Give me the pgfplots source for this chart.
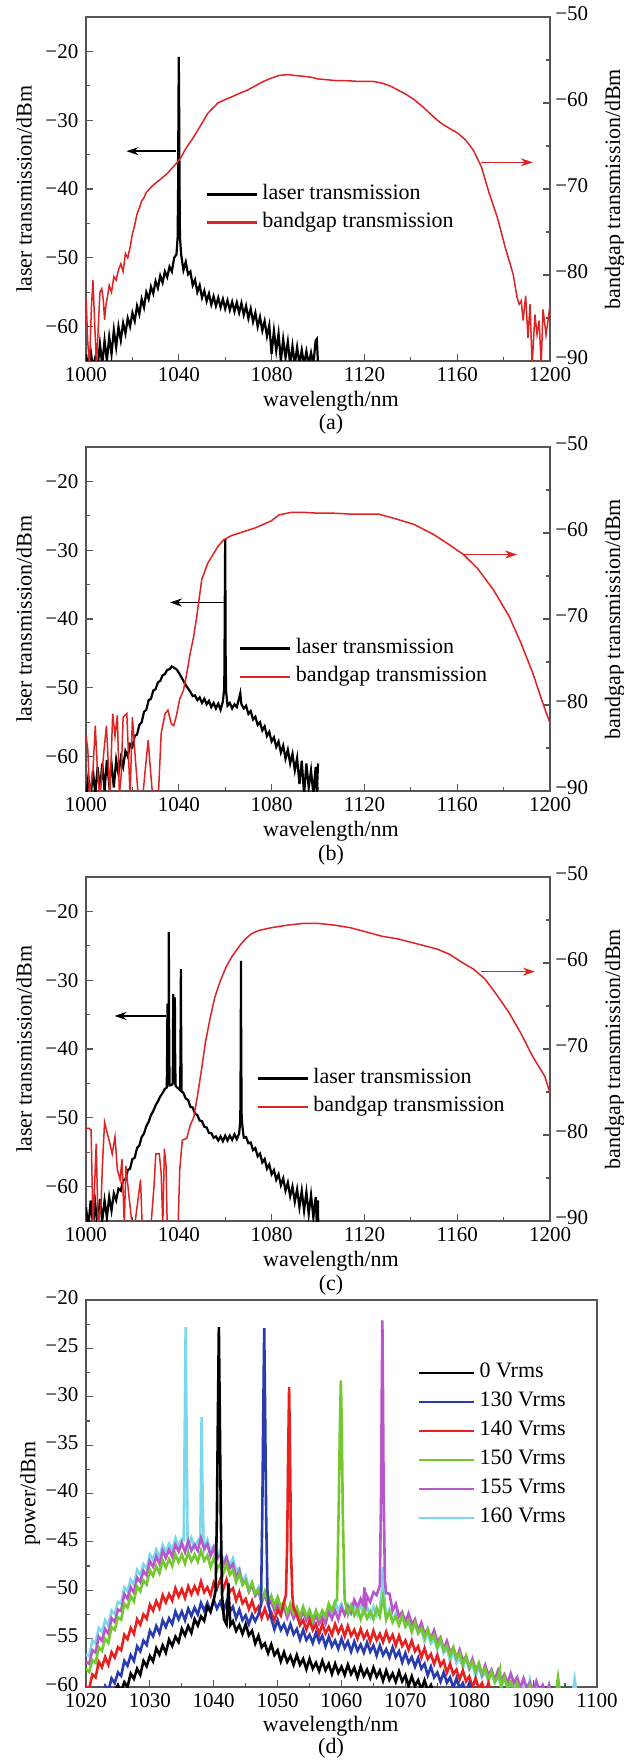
\documentclass[border=0pt]{standalone}
\usepackage{fontspec}
\setmainfont{Liberation Serif}
\usepackage{pgfplots}
\pgfplotsset{compat=1.18}
\usetikzlibrary{arrows.meta}
\definecolor{cR}{RGB}{222,35,35}
\definecolor{dBlue}{RGB}{40,60,175}
\definecolor{dRed}{RGB}{232,32,32}
\definecolor{dGreen}{RGB}{115,200,45}
\definecolor{dMag}{RGB}{185,85,205}
\definecolor{dCyan}{RGB}{125,215,235}
\definecolor{axgray}{RGB}{85,85,85}
\newcommand\fs{\fontsize{10.5pt}{12pt}\selectfont}
\newcommand\fl{\fontsize{11pt}{13pt}\selectfont}
\pgfplotsset{
  base/.style={scale only axis, anchor=north west, tick align=inside,
    axis line style={axgray,line width=0.7pt}, every tick/.style={axgray,line width=0.6pt},
    major tick length=3.5pt, minor tick length=2pt,
    tick label style={font=\fs}, label style={font=\fl},
    xticklabel style={inner sep=3pt},
    /pgf/number format/assume math mode=true, /pgf/number format/set thousands separator={},
    legend cell align=left},
  leftpanel/.style={base, width=232pt, height=172pt, xmin=1000, xmax=1200, ymin=-65, ymax=-15,
    xtick={1000,1040,...,1200}, minor x tick num=1, ytick={-60,-50,...,-20},
    yticklabels={−60,−50,−40,−30,−20}, minor y tick num=1, xtick pos=left, ytick pos=left,
    xlabel={wavelength/nm}, xlabel style={at={(axis description cs:0.528,0)},anchor=center,yshift=-20pt},
    ylabel={laser transmission/dBm}, ylabel style={at={(axis description cs:-0.1336,0.5)},anchor=center}},
  rightpanel/.style={base, width=232pt, height=172pt, xmin=1000, xmax=1200, ymin=-90, ymax=-50,
    axis x line=none, axis y line*=right, ytick={-90,-80,...,-50}, yticklabels={−90,−80,−70,−60,−50},
    minor y tick num=1, yticklabel style={inner sep=2.5pt, yshift=1.8pt},
    ylabel={bandgap transmission/dBm}, ylabel style={at={(axis description cs:1.1400,0.5)},anchor=center},
    legend image code/.code={\draw[##1] (0pt,0pt) -- (25pt,0pt);},
    legend style={draw=none, fill=none, anchor=north west, inner sep=0pt,
      nodes={inner sep=2pt, text height=7.5pt, text depth=2.5pt}, font=\fl}},
}
\begin{document}
\fl
\begin{tikzpicture}
\useasboundingbox (0pt,0pt) rectangle (312pt,-880pt);
% ---------------- (a) ----------------
\begin{axis}[leftpanel, at={(43pt,-8.5pt)}]
\addplot[black, line width=1.1pt] coordinates {(1000,-64)(1001,-66)(1002,-63.5)(1003,-66)(1004,-64.5)(1005,-66)(1006,-62.5)(1007,-65.5)(1008,-62)(1009,-65)(1010,-61.5)(1011,-64)(1012,-60.5)(1013,-63)(1014,-60)(1015,-62)(1016,-59.5)(1017,-61)(1018,-58.8)(1019,-60)(1020,-58)(1021,-59.2)(1022,-57)(1023,-58.2)(1024,-56)(1025,-57.2)(1026,-55)(1027,-56)(1028,-54.2)(1029,-55.2)(1030,-53.4)(1031,-54.4)(1032,-52.6)(1033,-53.6)(1034,-52)(1035,-52.8)(1036,-51.3)(1037,-52)(1038,-50)(1039,-49.5)(1039.5,-47)(1039.7,-40)(1039.85,-28)(1040,-20.8)(1040.15,-28)(1040.3,-39)(1040.5,-47)(1041,-49.5)(1042,-51.8)(1043,-50.6)(1044,-52.4)(1045,-52)(1046,-54)(1047,-53.2)(1048,-55)(1049,-54)(1050,-55.8)(1051,-54.8)(1052,-56.3)(1053,-55.2)(1054,-56.8)(1055,-55.6)(1056,-57)(1057,-55.8)(1058,-57.2)(1059,-56)(1060,-57.4)(1061,-56.2)(1062,-57.6)(1063,-56.4)(1064,-57.8)(1065,-56.5)(1066,-58)(1067,-56.6)(1068,-58.3)(1069,-57)(1070,-58.8)(1071,-57.4)(1072,-59.3)(1073,-58)(1074,-60)(1075,-58.6)(1076,-60.6)(1077,-59.2)(1078,-61.4)(1079,-59.8)(1080,-64)(1081,-60.6)(1082,-63.5)(1083,-61)(1084,-65)(1085,-61.8)(1086,-64.5)(1087,-62.2)(1088,-65.5)(1089,-62.8)(1090,-65.5)(1091,-63)(1092,-65.5)(1093,-63.4)(1094,-65.5)(1095,-63.6)(1096,-65.5)(1097,-63.8)(1098,-65.5)(1099,-62)(1099.5,-61.8)(1100,-65.5)};
\draw[black, line width=0.7pt, -{Stealth[length=6pt,width=4pt]}] (axis cs:1038.8,-34.5) -- (axis cs:1017.4,-34.5);
\end{axis}
\begin{axis}[rightpanel, at={(43pt,-8.5pt)}, legend style={at={(0.256,0.526)}}]
\addlegendimage{black, line width=1.6pt}
\addlegendentry{laser transmission}
\addplot[cR, line width=0.75pt, forget plot] coordinates {(1000,-82.6)(1000.8,-88)(1001.5,-90.5)(1002.3,-84)(1003,-80.6)(1003.8,-86)(1004.5,-90.5)(1005.3,-86)(1006,-82)(1006.8,-81.6)(1007.5,-83)(1008,-85.2)(1008.6,-83.5)(1009.2,-82.6)(1010,-81.2)(1011,-82)(1012,-80.2)(1013,-80.6)(1014,-79.4)(1015,-78.7)(1016,-79.6)(1017,-77.5)(1018,-78)(1019,-76.8)(1020,-75.2)(1021,-74.2)(1022,-72.9)(1023,-72.2)(1024,-71.4)(1025,-71)(1026,-70.4)(1028,-69.8)(1030,-69.3)(1032,-68.9)(1035,-68.2)(1037,-67.6)(1039,-67)(1041,-66.3)(1043,-65.3)(1045.6,-64.3)(1049,-62.8)(1052.5,-61.2)(1056.8,-60)(1060,-59.6)(1062.7,-59.3)(1066,-58.9)(1069.6,-58.5)(1073,-58)(1076.4,-57.5)(1080,-57.1)(1083.2,-56.8)(1087,-56.7)(1090,-56.8)(1094,-56.9)(1097,-57)(1100,-57.2)(1104,-57.3)(1108,-57.4)(1112,-57.4)(1118,-57.5)(1124,-57.5)(1127.7,-57.7)(1131,-58)(1134.5,-58.5)(1138,-59)(1141.4,-59.6)(1145,-60.4)(1148.2,-61.2)(1151,-61.9)(1153.3,-62.4)(1157,-63)(1160.2,-63.5)(1163.6,-64.3)(1167,-65.5)(1170.4,-67.4)(1173.8,-70.5)(1177.3,-73.3)(1180.7,-76.8)(1184.1,-79.9)(1185.8,-82.6)(1186.7,-83.4)(1187.6,-83)(1188.4,-85.3)(1189.5,-82.4)(1190.5,-87.3)(1191.4,-83.4)(1192.3,-90.5)(1193.5,-84.6)(1194.4,-86.9)(1195.3,-85.3)(1196.2,-90.5)(1197,-84)(1198.3,-87)(1200,-83.5)};
\addlegendimage{cR, line width=1.1pt}
\addlegendentry{bandgap transmission}
\draw[cR, line width=0.7pt, -{Stealth[length=6pt,width=4pt]}] (axis cs:1170.4,-66.9) -- (axis cs:1192.6,-66.9);
\end{axis}
\node[font=\fl] at (165.5pt,-212pt) {(a)};
% ---------------- (b) ----------------
\begin{axis}[leftpanel, at={(43pt,-223.5pt)}]
\addplot[black, line width=1.1pt] coordinates {(1000,-66)(1001,-63)(1002,-66)(1003,-62)(1004,-65.5)(1005,-61.5)(1006,-65)(1007,-61)(1008,-65)(1009,-60.5)(1010,-64)(1011,-61)(1012,-64.5)(1013,-60.5)(1014,-62.5)(1015,-60.2)(1016,-61.5)(1017,-59.2)(1018,-60)(1019,-58.2)(1020,-58.6)(1021,-57)(1022,-56.8)(1023,-55.4)(1024,-55)(1025,-53.5)(1026,-53.2)(1027,-51.8)(1028,-51.6)(1029,-50.4)(1030,-50.2)(1031,-49.2)(1032,-49)(1033,-48.2)(1034,-48)(1035,-47.4)(1036,-47.3)(1037,-46.9)(1038,-47.1)(1039,-47.3)(1040,-47.8)(1041,-48.4)(1042,-49)(1043,-49.6)(1044,-50.1)(1045,-50.6)(1046,-51.2)(1047,-51.1)(1048,-51.8)(1049,-51.4)(1050,-52.2)(1051,-51.6)(1052,-52.4)(1053,-51.9)(1054,-52.8)(1055,-52.2)(1056,-53)(1057,-52.3)(1058,-53.2)(1059,-52)(1059.6,-50)(1059.8,-40)(1059.9,-33)(1060,-28.4)(1060.1,-37)(1060.2,-46)(1060.4,-50.5)(1061,-52.6)(1062,-52.2)(1063,-53)(1064,-52.4)(1065,-52.8)(1066,-51.5)(1066.5,-50.8)(1067,-52.4)(1068,-53)(1069,-52.6)(1070,-53.8)(1071,-53.4)(1072,-54.6)(1073,-54.2)(1074,-55.4)(1075,-55)(1076,-56.2)(1077,-55.6)(1078,-57)(1079,-56.4)(1080,-57.8)(1081,-57.2)(1082,-58.6)(1083,-57.8)(1084,-59.4)(1085,-58.4)(1086,-60.3)(1087,-59)(1088,-61)(1089,-59.6)(1090,-62)(1091,-60.2)(1092,-64)(1093,-60.6)(1094,-65.5)(1095,-61)(1096,-64.5)(1097,-62)(1098,-65.5)(1099,-61.5)(1099.5,-65.5)(1100,-61)};
\draw[black, line width=0.7pt, -{Stealth[length=6pt,width=4pt]}] (axis cs:1059.3,-37.6) -- (axis cs:1036.2,-37.6);
\end{axis}
\begin{axis}[rightpanel, at={(43pt,-223.5pt)}, legend style={at={(0.328,0.455)}}]
\addlegendimage{black, line width=1.6pt}
\addlegendentry{laser transmission}
\addplot[cR, line width=0.75pt, forget plot] coordinates {(1000,-83.6)(1000.8,-85.2)(1001.5,-90.5)(1003,-87.6)(1004,-82.4)(1005,-88)(1006,-90.5)(1007.5,-86)(1008.8,-82.4)(1010.3,-90.5)(1011.5,-81)(1012.5,-83.6)(1013.5,-81.2)(1014.4,-90.5)(1015.2,-88)(1016,-81.4)(1017.6,-81)(1019,-90.5)(1020,-81.4)(1021.2,-86)(1022.5,-90.5)(1024.5,-90.5)(1025.8,-86.8)(1026.8,-84.1)(1027.8,-87.6)(1028.7,-90.5)(1031.2,-90.5)(1032.4,-83.3)(1034.1,-81)(1035.3,-80.6)(1036.8,-82.2)(1037.8,-82.4)(1039,-81.2)(1040.4,-79.3)(1042,-78.3)(1043.4,-76.4)(1044.9,-74)(1046.3,-72.2)(1047.8,-69.6)(1049.9,-65.4)(1052.5,-63.5)(1056.8,-61.6)(1059.3,-60.8)(1062.7,-60.3)(1066.2,-60)(1073,-59.4)(1079.8,-58.6)(1083.2,-57.9)(1088.4,-57.6)(1094,-57.6)(1100.3,-57.7)(1107,-57.7)(1114,-57.8)(1120,-57.8)(1126,-57.8)(1132.8,-58.3)(1141.4,-59)(1150,-60.2)(1156.8,-61.4)(1162.7,-62.5)(1168.7,-64.1)(1175.6,-66.6)(1182.4,-69.7)(1187.5,-72.8)(1192.6,-76.3)(1196.9,-79.8)(1200,-82.1)};
\addlegendimage{cR, line width=1.1pt}
\addlegendentry{bandgap transmission}
\draw[cR, line width=0.7pt, -{Stealth[length=6pt,width=4pt]}] (axis cs:1161.9,-62.5) -- (axis cs:1185.8,-62.5);
\end{axis}
\node[font=\fl] at (165.5pt,-427.5pt) {(b)};
% ---------------- (c) ----------------
\begin{axis}[leftpanel, at={(43pt,-438.5pt)}]
\addplot[black, line width=1.1pt] coordinates {(1000,-63)(1001,-66)(1002,-62)(1003,-65.5)(1004,-62.5)(1005,-66)(1006,-61.8)(1007,-65)(1008,-62)(1009,-64.5)(1010,-61.5)(1011,-63.5)(1012,-61)(1013,-62)(1014,-60.3)(1015,-60.6)(1016,-59)(1017,-59)(1018,-57.6)(1019,-57.4)(1020,-56)(1021,-55.8)(1022,-54.4)(1023,-54)(1024,-52.8)(1025,-52.3)(1026,-51.2)(1027,-50.6)(1028,-49.6)(1029,-49)(1030,-48.2)(1031,-47.6)(1032,-46.9)(1033,-46.4)(1034,-45.8)(1034.8,-45.6)(1035,-40)(1035.1,-33.4)(1035.2,-40)(1035.4,-45.2)(1035.6,-35)(1035.7,-23)(1035.8,-35)(1036,-45.3)(1037,-45.2)(1037.4,-45)(1037.5,-38)(1037.6,-32)(1037.7,-38)(1037.9,-45.1)(1038.1,-40)(1038.3,-32.5)(1038.4,-40)(1038.6,-45.3)(1039,-45.5)(1040,-45.8)(1040.6,-46)(1040.8,-36)(1040.9,-28.4)(1041,-36)(1041.2,-46.1)(1042,-46.4)(1043,-47.2)(1044,-47.4)(1045,-48.4)(1046,-48.5)(1047,-49.4)(1048,-49.6)(1049,-50.4)(1050,-50.5)(1051,-51.3)(1052,-51.4)(1053,-52.2)(1054,-52.2)(1055,-52.9)(1056,-52.7)(1057,-53.3)(1058,-52.7)(1059,-53.4)(1060,-52.6)(1061,-53.3)(1062,-52.6)(1063,-53.2)(1064,-52.4)(1065,-53.1)(1066,-52.3)(1066.5,-50.5)(1066.7,-40)(1066.8,-27.2)(1066.9,-40)(1067.1,-50)(1067.5,-51.5)(1068,-52.9)(1069,-52.8)(1070,-53.7)(1071,-53.6)(1072,-54.7)(1073,-54.4)(1074,-55.6)(1075,-55.2)(1076,-56.5)(1077,-56)(1078,-57.4)(1079,-56.8)(1080,-58.2)(1081,-57.6)(1082,-59)(1083,-58.2)(1084,-59.8)(1085,-58.8)(1086,-60.6)(1087,-59.4)(1088,-61.4)(1089,-60)(1090,-62.2)(1091,-60.4)(1092,-63)(1093,-60.6)(1094,-63.5)(1095,-60.8)(1096,-64)(1097,-61.2)(1098,-64.5)(1099,-61.5)(1099.5,-65.5)(1100,-62)(1100.1,-66)};
\draw[black, line width=0.7pt, -{Stealth[length=6pt,width=4pt]}] (axis cs:1034.5,-35.2) -- (axis cs:1012.3,-35.2);
\end{axis}
\begin{axis}[rightpanel, at={(43pt,-438.5pt)}, legend style={at={(0.366,0.455)}}]
\addlegendimage{black, line width=1.6pt}
\addlegendentry{laser transmission}
\addplot[cR, line width=0.75pt, forget plot] coordinates {(1000,-79.3)(1001,-79.2)(1002.2,-79.4)(1003,-90.5)(1003.7,-86)(1004.4,-81)(1005.2,-90.5)(1006.5,-88)(1007,-84)(1008,-78.5)(1009,-79.6)(1010.3,-81)(1011.3,-82.2)(1012.5,-80.2)(1013.5,-84)(1014.7,-85.2)(1015.5,-82.8)(1016.5,-90.5)(1017.2,-83.6)(1018.4,-86.8)(1019.9,-90.5)(1021,-90.5)(1023.5,-85.2)(1024.2,-90.5)(1028,-90.5)(1029.3,-86)(1030.1,-82.2)(1031.6,-82.2)(1032.4,-84.4)(1033.1,-90.5)(1033.8,-81.6)(1034.5,-83.6)(1035,-90.5)(1039.7,-90.5)(1040.4,-84.1)(1041.5,-80.6)(1043.4,-80.4)(1044.9,-78.9)(1046.5,-77.9)(1048.2,-75.2)(1050,-72)(1051.5,-69.2)(1053.5,-66.4)(1055.5,-64)(1058,-62)(1060.5,-60.4)(1063,-59.2)(1066.2,-58)(1068.7,-57.2)(1071.3,-56.6)(1074.7,-56.2)(1079.8,-55.9)(1086.7,-55.6)(1093.5,-55.4)(1100.3,-55.4)(1107.2,-55.6)(1114,-55.9)(1120.9,-56.4)(1127.7,-56.9)(1134.5,-57.2)(1143.1,-57.8)(1151.6,-58.4)(1156.8,-59)(1161.9,-59.9)(1167,-60.7)(1172.1,-61.9)(1177.3,-63.8)(1182.4,-65.8)(1187.5,-68.2)(1192.6,-70.9)(1197.8,-73.2)(1200,-75.1)};
\addlegendimage{cR, line width=1.1pt}
\addlegendentry{bandgap transmission}
\draw[cR, line width=0.7pt, -{Stealth[length=6pt,width=4pt]}] (axis cs:1170.4,-61) -- (axis cs:1193.5,-61);
\end{axis}
\node[font=\fl] at (165.5pt,-642.5pt) {(c)};
% ---------------- (d) ----------------
\begin{axis}[base, at={(43pt,-650pt)}, width=255.5pt, height=193.5pt,
  xmin=1020, xmax=1100, ymin=-60, ymax=-20,
  xtick={1020,1030,...,1100}, minor x tick num=1,
  ytick={-60,-55,...,-20}, yticklabels={−60,−55,−50,−45,−40,−35,−30,−25,−20}, minor y tick num=1,
  yticklabel style={yshift=1.3pt},
  xtick pos=left, ytick pos=left,
  xlabel={wavelength/nm}, xlabel style={at={(axis description cs:0.479,0)},anchor=center,yshift=-19.5pt},
  ylabel={power/dBm}, ylabel style={at={(axis description cs:-0.1096,0.5)},anchor=center},
  legend image code/.code={\draw[#1] (0pt,0pt) -- (27.5pt,0pt);},
  legend style={draw=none, fill=none, at={(0.648,0.85)}, anchor=north west, inner sep=0pt,
    nodes={inner sep=2.25pt, text height=7.5pt, text depth=2.5pt}, font=\fl},
  reverse legend]
\addplot[dCyan, line width=1.3pt] coordinates {(1020,-56.7)(1020.5,-56.75)(1021,-55.2)(1021.5,-55.5)(1022,-53.9)(1022.5,-54.3)(1023,-53.1)(1023.5,-53.65)(1024,-52.1)(1024.5,-52.45)(1025,-51.2)(1025.5,-51.4)(1026,-49.7)(1026.5,-50.1)(1027,-48.9)(1027.5,-49.45)(1028,-47.9)(1028.5,-48.4)(1029,-47.3)(1029.5,-47.75)(1030,-46.3)(1030.5,-46.85)(1031,-45.8)(1031.5,-46.6)(1032,-45.3)(1032.5,-46.05)(1033,-45.2)(1033.5,-45.85)(1034,-44.6)(1034.5,-45.45)(1035,-44.7)(1035.3,-44.8)(1035.5,-30)(1035.6,-22.8)(1035.7,-30)(1035.9,-44.5)(1036,-45.6)(1036.5,-44.6)(1037,-45.6)(1037.5,-44.9)(1037.9,-44.5)(1038,-38)(1038.1,-32.1)(1038.2,-38)(1038.4,-44.8)(1038.5,-45.8)(1039,-44.8)(1039.5,-45.9)(1040,-45.4)(1040.5,-46.65)(1041,-45.8)(1041.5,-46.95)(1042,-46.5)(1042.5,-47.55)(1043,-46.7)(1043.5,-48)(1044,-47.7)(1044.5,-49.15)(1045,-48.5)(1045.5,-49.75)(1046,-49.4)(1046.5,-50.5)(1047,-49.7)(1047.5,-50.8)(1048,-50.3)(1048.5,-51.5)(1049,-50.6)(1049.5,-51.7)(1050,-51.2)(1050.5,-52.15)(1051,-51.2)(1051.5,-52.25)(1052,-51.7)(1052.5,-52.8)(1053,-51.8)(1053.5,-52.8)(1054,-52.2)(1054.5,-53.05)(1055,-52)(1055.5,-52.95)(1056,-52.3)(1056.5,-53.3)(1057,-52.2)(1057.5,-52.9)(1058,-52)(1058.5,-52.55)(1059,-51.2)(1059.5,-52.1)(1060,-51.4)(1060.5,-52.5)(1061,-51.5)(1061.5,-52.4)(1062,-51.7)(1062.5,-52.55)(1063,-51.5)(1063.5,-52.4)(1064,-51.7)(1064.5,-52.75)(1065,-51.7)(1065.5,-52.6)(1066,-51.9)(1066.3,-50)(1066.5,-47.6)(1066.7,-50.5)(1067,-53)(1067.5,-52)(1068,-53)(1068.5,-52.4)(1069,-53.5)(1069.5,-52.65)(1070,-53.8)(1070.5,-53.3)(1071,-54.3)(1071.5,-53.4)(1072,-54.5)(1072.5,-54.05)(1073,-55.3)(1073.5,-54.4)(1074,-55.5)(1074.5,-55.05)(1075,-56.1)(1075.5,-55.3)(1076,-56.5)(1076.5,-56.05)(1077,-57.3)(1077.5,-56.4)(1078,-57.5)(1078.5,-57)(1079,-58)(1079.5,-57.1)(1080,-58.2)(1080.5,-57.7)(1081,-58.9)(1081.5,-57.95)(1082,-59)(1082.5,-58.45)(1083,-59.4)(1083.5,-58.45)(1084,-59.5)(1084.5,-58.9)(1085,-60)(1085.5,-59.05)(1086,-60.1)(1086.5,-59.55)(1087,-60.5)(1087.5,-59.5)(1088,-60.5)(1088.5,-59.9)(1089,-61)(1089.5,-59.3)(1090,-61)(1090.5,-59.6)(1091,-61)(1092,-61.2)(1092.5,-59.8)(1093,-61.5)(1096,-61.5)(1096.5,-59.2)(1097,-61.5)};
\addlegendentry{160 Vrms}
\addplot[dMag, line width=1.3pt] coordinates {(1020,-57.4)(1020.5,-57.6)(1021,-56.2)(1021.5,-56.45)(1022,-54.8)(1022.5,-55.2)(1023,-54)(1023.5,-54.5)(1024,-52.9)(1024.5,-53.25)(1025,-52)(1025.5,-52.15)(1026,-50.4)(1026.5,-50.85)(1027,-49.7)(1027.5,-50.25)(1028,-48.7)(1028.5,-49.15)(1029,-48)(1029.5,-48.45)(1030,-47)(1030.5,-47.55)(1031,-46.5)(1031.5,-47.25)(1032,-45.9)(1032.5,-46.65)(1033,-45.8)(1033.5,-46.5)(1034,-45.3)(1034.5,-46)(1035,-45.1)(1035.5,-46.05)(1036,-44.9)(1036.5,-45.9)(1037,-45.3)(1037.5,-45.9)(1038,-44.6)(1038.5,-45.7)(1039,-45.2)(1039.5,-46.45)(1040,-45.6)(1040.5,-46.75)(1041,-46.3)(1041.5,-47.4)(1042,-46.6)(1042.5,-47.75)(1043,-47.3)(1043.5,-48.7)(1044,-48)(1044.5,-49.3)(1045,-49)(1045.5,-50.15)(1046,-49.4)(1046.5,-50.55)(1047,-50.1)(1047.5,-51.3)(1048,-50.4)(1048.5,-51.55)(1049,-51.1)(1049.5,-52.1)(1050,-51.2)(1050.5,-52.25)(1051,-51.7)(1051.5,-52.85)(1052,-51.9)(1052.5,-52.9)(1053,-52.3)(1053.5,-53.15)(1054,-52.1)(1054.5,-53.1)(1055,-52.5)(1055.5,-53.55)(1056,-52.5)(1056.5,-53.45)(1057,-52.8)(1057.5,-53.45)(1058,-52.2)(1058.5,-52.95)(1059,-52.1)(1059.5,-53)(1060,-51.8)(1060.5,-52.55)(1061,-51.7)(1061.5,-52.3)(1062,-51)(1062.5,-51.75)(1063,-50.9)(1063.4,-51.5)(1063.6,-49.7)(1063.8,-51.6)(1064,-50.6)(1064.5,-51.2)(1065,-50.2)(1065.5,-50.5)(1066,-49.5)(1066.2,-40)(1066.3,-30)(1066.4,-22.1)(1066.5,-30)(1066.6,-40)(1066.8,-49)(1067,-50.3)(1067.5,-50.35)(1068,-52.1)(1068.5,-51.4)(1069,-52.7)(1069.5,-52.25)(1070,-53.3)(1070.5,-52.4)(1071,-53.5)(1071.5,-53)(1072,-54.2)(1072.5,-53.35)(1073,-54.5)(1073.5,-54)(1074,-55)(1074.5,-54.15)(1075,-55.3)(1075.5,-54.85)(1076,-56.1)(1076.5,-55.25)(1077,-56.4)(1077.5,-55.95)(1078,-57)(1078.5,-56.15)(1079,-57.3)(1079.5,-56.8)(1080,-58)(1080.5,-57.1)(1081,-58.2)(1081.5,-57.7)(1082,-58.7)(1082.5,-57.75)(1083,-58.8)(1083.5,-58.2)(1084,-59.3)(1084.5,-58.3)(1085,-59.3)(1085.5,-58.7)(1086,-59.6)(1086.5,-58.6)(1087,-59.6)(1087.5,-59)(1088,-60.1)(1088.5,-59.1)(1089,-60.1)(1089.5,-59.5)(1090,-60.4)(1090.5,-59.4)(1091,-60.4)(1091.5,-59.8)(1092,-60.9)(1092.5,-59.8)(1093,-61)(1094,-61.5)};
\addlegendentry{155 Vrms}
\addplot[dGreen, line width=1.3pt] coordinates {(1020,-58.1)(1020.5,-58.45)(1021,-57.2)(1021.5,-57.5)(1022,-55.9)(1022.5,-56.25)(1023,-55)(1023.5,-55.45)(1024,-53.8)(1024.5,-54.1)(1025,-52.8)(1025.5,-53.05)(1026,-51.4)(1026.5,-51.8)(1027,-50.6)(1027.5,-51.15)(1028,-49.6)(1028.5,-50.1)(1029,-49)(1029.5,-49.4)(1030,-47.9)(1030.5,-48.5)(1031,-47.5)(1031.5,-48.25)(1032,-46.9)(1032.5,-47.65)(1033,-46.8)(1033.5,-47.5)(1034,-46.3)(1034.5,-47.1)(1035,-46.3)(1035.5,-47.25)(1036,-46.1)(1036.5,-47)(1037,-46.3)(1037.5,-47.05)(1038,-45.9)(1038.5,-46.95)(1039,-46.4)(1039.5,-47.6)(1040,-46.7)(1040.5,-47.8)(1041,-47.3)(1041.5,-48.25)(1042,-47.3)(1042.5,-48.4)(1043,-47.9)(1043.5,-49.15)(1044,-48.3)(1044.5,-49.45)(1045,-49)(1045.5,-50.05)(1046,-49.2)(1046.5,-50.35)(1047,-49.9)(1047.5,-51.05)(1048,-50.1)(1048.5,-51.15)(1049,-50.6)(1049.5,-51.6)(1050,-50.7)(1050.5,-51.75)(1051,-51.2)(1051.5,-52.35)(1052,-51.4)(1052.5,-52.4)(1053,-51.8)(1053.5,-52.7)(1054,-51.7)(1054.5,-52.7)(1055,-52.1)(1055.5,-53.15)(1056,-52.1)(1056.5,-52.9)(1057,-52.1)(1057.5,-52.7)(1058,-51.4)(1058.5,-52.1)(1059,-51.2)(1059.3,-51)(1059.6,-40)(1059.75,-33)(1059.9,-28.3)(1060.05,-33)(1060.2,-42)(1060.5,-51)(1061,-52.5)(1061.5,-51.55)(1062,-52.6)(1062.5,-51.95)(1063,-53)(1063.5,-51.95)(1064,-52.9)(1064.5,-52.2)(1065,-53)(1065.5,-51.85)(1066,-52.7)(1066.5,-50.7)(1067,-53)(1067.5,-52.25)(1068,-53.3)(1068.5,-52.7)(1069,-53.6)(1069.5,-52.65)(1070,-53.7)(1070.5,-53.15)(1071,-54.3)(1071.5,-53.35)(1072,-54.4)(1072.5,-53.9)(1073,-54.9)(1073.5,-54)(1074,-55.1)(1074.5,-54.65)(1075,-55.9)(1075.5,-55.05)(1076,-56.2)(1076.5,-55.75)(1077,-56.8)(1077.5,-55.9)(1078,-57)(1078.5,-56.5)(1079,-57.7)(1079.5,-56.8)(1080,-57.9)(1080.5,-57.4)(1081,-58.4)(1081.5,-57.5)(1082,-58.6)(1082.5,-58.1)(1083,-59.3)(1083.5,-58.4)(1084,-59.5)(1084.5,-58.95)(1084.8,-58.2)(1085,-59.9)(1085.5,-58.95)(1086,-60)(1086.5,-59.45)(1087,-60.6)(1087.5,-59.6)(1088,-60.6)(1089,-60.8)(1089.5,-59.8)(1090,-61)(1093.5,-61)(1093.9,-59)(1094.3,-61)};
\addlegendentry{150 Vrms}
\addplot[dRed, line width=1.3pt] coordinates {(1020,-60)(1020.5,-60.15)(1021,-58.7)(1021.5,-59)(1022,-57.4)(1022.5,-57.95)(1023,-56.9)(1023.5,-57.7)(1024,-56.4)(1024.5,-56.95)(1025,-55.9)(1025.5,-56.2)(1026,-54.6)(1026.5,-55.05)(1027,-53.9)(1027.5,-54.5)(1028,-53)(1028.5,-53.55)(1029,-52.5)(1029.5,-52.95)(1030,-51.5)(1030.5,-52.1)(1031,-51.1)(1031.5,-51.85)(1032,-50.5)(1032.5,-51.25)(1033,-50.4)(1033.5,-51.05)(1034,-49.8)(1034.5,-50.65)(1035,-49.9)(1035.5,-50.8)(1036,-49.6)(1036.5,-50.4)(1037,-49.6)(1037.5,-50.3)(1038,-49.1)(1038.5,-50.2)(1039,-49.7)(1039.5,-50.5)(1040,-49.2)(1040.5,-49.85)(1041,-48.9)(1041.5,-49.85)(1042,-48.9)(1042.5,-50.15)(1043,-49.8)(1043.5,-51.05)(1044,-50.2)(1044.5,-51.35)(1045,-50.9)(1045.5,-51.95)(1046,-51.1)(1046.5,-52.2)(1047,-51.7)(1047.5,-52.85)(1048,-51.9)(1048.5,-52.9)(1049,-52.3)(1049.5,-53.1)(1050,-52)(1050.5,-52.6)(1051,-51.2)(1051.3,-50.5)(1051.5,-45)(1051.65,-36)(1051.8,-29)(1051.95,-36)(1052.1,-46)(1052.3,-50.5)(1052.5,-51.8)(1053,-52.5)(1053.5,-53.6)(1054,-53.1)(1054.5,-54.05)(1055,-53.1)(1055.5,-54.1)(1056,-53.5)(1056.5,-54.55)(1057,-53.5)(1057.5,-54.45)(1058,-53.8)(1058.5,-54.6)(1059,-53.5)(1059.5,-54.4)(1060,-53.7)(1060.5,-54.75)(1061,-53.7)(1061.5,-54.7)(1062,-54.1)(1062.5,-55)(1063,-54)(1063.5,-54.95)(1064,-54.3)(1064.5,-55.3)(1065,-54.2)(1065.5,-55.15)(1066,-54.5)(1066.5,-55.35)(1067,-54.3)(1067.5,-55.25)(1068,-54.6)(1068.5,-55.7)(1069,-54.7)(1069.5,-55.75)(1070,-55.2)(1070.5,-56.15)(1071,-55.2)(1071.5,-56.3)(1072,-55.8)(1072.5,-56.95)(1073,-56)(1073.5,-57.1)(1074,-56.6)(1074.5,-57.6)(1075,-56.7)(1075.5,-57.8)(1076,-57.3)(1076.5,-58.5)(1077,-57.6)(1077.5,-58.7)(1078,-58.2)(1078.5,-59.2)(1079,-58.3)(1079.5,-59.4)(1080,-58.9)(1080.5,-60.05)(1081,-59.1)(1081.5,-60.15)(1082,-59.6)(1082.5,-60.55)(1083,-59.6)(1083.5,-60.8)(1084,-60.5)(1084.5,-61)};
\addlegendentry{140 Vrms}
\addplot[dBlue, line width=1.3pt] coordinates {(1020,-61)(1021,-60.3)(1021.5,-61)(1022,-60.2)(1022.5,-61)(1023,-59.9)(1023.5,-60.4)(1024,-59.1)(1024.5,-59.6)(1025,-58.5)(1025.5,-58.85)(1026,-57.3)(1026.5,-57.8)(1027,-56.7)(1027.5,-57.3)(1028,-55.8)(1028.5,-56.3)(1029,-55.2)(1029.5,-55.65)(1030,-54.2)(1030.5,-54.75)(1031,-53.7)(1031.5,-54.45)(1032,-53.1)(1032.5,-53.8)(1033,-52.9)(1033.5,-53.5)(1034,-52.2)(1034.5,-53)(1035,-52.2)(1035.5,-53.1)(1036,-51.9)(1036.5,-52.65)(1037,-51.8)(1037.5,-52.5)(1038,-51.3)(1038.5,-52.1)(1039,-51.3)(1039.5,-52.2)(1040,-51)(1040.5,-51.9)(1041,-51.2)(1041.5,-52.15)(1042,-51.2)(1042.5,-52.25)(1043,-51.7)(1043.5,-52.9)(1044,-52)(1044.5,-53.1)(1045,-52.6)(1045.5,-53.5)(1046,-52.5)(1046.5,-53.2)(1047,-52.5)(1047.4,-51.5)(1047.6,-42)(1047.75,-32)(1047.9,-22.9)(1048.05,-32)(1048.2,-42)(1048.4,-50)(1048.6,-51.5)(1049,-52.9)(1049.5,-54.05)(1050,-53.1)(1050.5,-54.1)(1051,-53.5)(1051.5,-54.45)(1052,-53.5)(1052.5,-54.55)(1053,-54)(1053.5,-55.1)(1054,-54.1)(1054.5,-55.15)(1055,-54.6)(1055.5,-55.45)(1056,-54.4)(1056.5,-55.35)(1057,-54.7)(1057.5,-55.8)(1058,-54.8)(1058.5,-55.8)(1059,-55.2)(1059.5,-56.05)(1060,-55)(1060.5,-55.95)(1061,-55.3)(1061.5,-56.35)(1062,-55.3)(1062.5,-56.25)(1063,-55.6)(1063.5,-56.45)(1064,-55.4)(1064.5,-56.35)(1065,-55.7)(1065.5,-56.75)(1066,-55.7)(1066.5,-56.7)(1067,-56.1)(1067.5,-56.95)(1068,-55.9)(1068.5,-56.9)(1069,-56.3)(1069.5,-57.45)(1070,-56.5)(1070.5,-57.5)(1071,-56.9)(1071.5,-57.9)(1072,-57)(1072.5,-58.1)(1073,-57.6)(1073.5,-58.8)(1074,-57.9)(1074.5,-59)(1075,-58.5)(1075.5,-59.45)(1076,-58.5)(1076.5,-59.55)(1077,-59)(1077.5,-60.1)(1078,-59.1)(1078.5,-60.15)(1079,-59.6)(1079.5,-60.55)(1080,-59.6)(1080.5,-60.8)(1081,-60.5)(1081.5,-61)};
\addlegendentry{130 Vrms}
\addplot[black, line width=1.3pt] coordinates {(1024,-61)(1024.5,-60.4)(1025,-59.8)(1025.5,-60.45)(1026,-59.5)(1026.5,-60)(1027,-58.6)(1027.5,-59.15)(1028,-58.1)(1028.5,-58.75)(1029,-57.3)(1029.5,-57.85)(1030,-56.8)(1030.5,-57.35)(1031,-56)(1031.5,-56.65)(1032,-55.7)(1032.5,-56.45)(1033,-55.1)(1033.5,-55.75)(1034,-54.8)(1034.5,-55.35)(1035,-54)(1035.5,-54.65)(1036,-53.7)(1036.5,-54.4)(1037,-53)(1037.5,-53.65)(1038,-52.7)(1038.5,-53.15)(1039,-51.7)(1039.5,-52.2)(1040,-51)(1040.3,-50)(1040.5,-42)(1040.65,-32)(1040.8,-22.8)(1040.95,-32)(1041.1,-42)(1041.3,-50.5)(1041.6,-53)(1042,-53.5)(1042.2,-51)(1042.3,-49.3)(1042.4,-51)(1042.6,-53.6)(1043,-53.2)(1043.5,-54.2)(1044,-53.6)(1044.5,-54.5)(1045,-53.5)(1045.5,-54.65)(1046,-54.2)(1046.5,-55.5)(1047,-54.7)(1047.5,-55.9)(1048,-55.5)(1048.5,-56.5)(1049,-55.6)(1049.5,-56.7)(1050,-56.2)(1050.5,-57.35)(1051,-56.4)(1051.5,-57.4)(1052,-56.8)(1052.5,-57.7)(1053,-56.7)(1053.5,-57.7)(1054,-57.1)(1054.5,-58.15)(1055,-57.1)(1055.5,-58.1)(1056,-57.5)(1056.5,-58.35)(1057,-57.3)(1057.5,-58.25)(1058,-57.6)(1058.5,-58.65)(1059,-57.6)(1059.5,-58.55)(1060,-57.9)(1060.5,-58.75)(1061,-57.7)(1061.5,-58.65)(1062,-58)(1062.5,-59)(1063,-57.9)(1063.5,-58.85)(1064,-58.2)(1064.5,-59.05)(1065,-58)(1065.5,-58.95)(1066,-58.3)(1066.5,-59.35)(1067,-58.3)(1067.5,-59.25)(1068,-58.6)(1068.5,-59.45)(1069,-58.4)(1069.5,-59.4)(1070,-58.8)(1070.5,-59.9)(1071,-58.9)(1071.5,-59.9)(1072,-59.3)(1072.5,-60.25)(1073,-59.3)(1073.5,-60.35)(1074,-59.8)(1074.5,-60.8)(1075,-60.3)(1075.5,-61)};
\addlegendentry{0 Vrms}
\end{axis}
\node[font=\fl] at (165.5pt,-874pt) {(d)};
\end{tikzpicture}
\end{document}
